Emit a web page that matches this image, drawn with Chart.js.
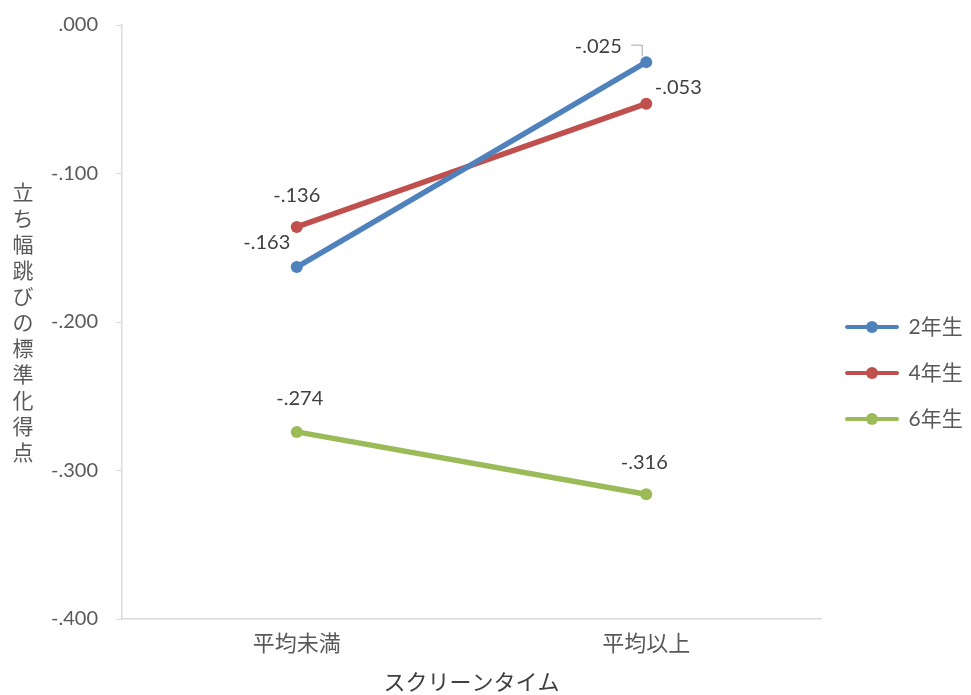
<!DOCTYPE html>
<html>
<head>
<meta charset="utf-8">
<script src="https://cdn.jsdelivr.net/npm/chart.js@4/dist/chart.umd.min.js"></script>
<style>
  html, body { margin: 0; padding: 0; background: #fff; }
  #wrap { width: 971px; height: 695px; }
</style>
</head>
<body>
<div id="wrap"><canvas id="myChart"></canvas></div>
<script>
const categories = ['平均未満', '平均以上'];
const seriesNames = ['2年生', '4年生', '6年生'];
const grade2 = [-0.163, -0.025];
const grade4 = [-0.136, -0.053];
const grade6 = [-0.274, -0.316];
const yTicks = [0, -0.1, -0.2, -0.3, -0.4];
const yTitle = '立ち幅跳びの標準化得点';
const xTitle = 'スクリーンタイム';

const colors = ['#4F81BD', '#C0504D', '#9BBB59'];
const font = "Lato, 'Noto Sans CJK JP', sans-serif";
const jpFont = "'Noto Sans CJK JP', sans-serif";

// label offsets (relative to the point), per series
const labelOffsets = [
  [[-30, -25], [-48, -16]],
  [[0, -31], [32, -16]],
  [[3, -33], [-2, -32]]
];

function fmt(v) {
  return v.toFixed(3).replace('0.', '.');
}

function legendIcon(color) {
  const c = document.createElement('canvas');
  c.width = 54; c.height = 14;
  const g = c.getContext('2d');
  g.strokeStyle = color;
  g.lineWidth = 4;
  g.lineCap = 'round';
  g.beginPath(); g.moveTo(2, 7); g.lineTo(52, 7); g.stroke();
  g.fillStyle = color;
  g.beginPath(); g.arc(27, 7, 6, 0, Math.PI * 2); g.fill();
  return c;
}

const valueLabels = {
  id: 'valueLabels',
  afterDatasetsDraw(chart) {
    const ctx = chart.ctx;
    ctx.save();
    ctx.font = '20px ' + font;
    ctx.fillStyle = '#404040';
    ctx.textAlign = 'center';
    ctx.textBaseline = 'middle';
    chart.data.datasets.forEach((ds, i) => {
      const meta = chart.getDatasetMeta(i);
      meta.data.forEach((pt, j) => {
        const off = labelOffsets[i][j];
        ctx.fillText(fmt(ds.data[j]), pt.x + off[0], pt.y + off[1]);
      });
    });
    // leader line for the 2年生 / 平均以上 label
    const p = chart.getDatasetMeta(0).data[1];
    ctx.strokeStyle = '#a6a6a6';
    ctx.lineWidth = 1;
    ctx.beginPath();
    ctx.moveTo(p.x - 15, p.y - 17);
    ctx.lineTo(p.x - 4, p.y - 17);
    ctx.lineTo(p.x - 4, p.y - 6);
    ctx.stroke();
    ctx.restore();
  }
};

const verticalTitle = {
  id: 'verticalTitle',
  afterDraw(chart) {
    const ctx = chart.ctx;
    const area = chart.chartArea;
    const mid = (area.top + area.bottom) / 2;
    const step = 26;
    const chars = Array.from(yTitle);
    ctx.save();
    ctx.font = '21px ' + jpFont;
    ctx.fillStyle = '#595959';
    ctx.textAlign = 'center';
    ctx.textBaseline = 'middle';
    chars.forEach((ch, i) => {
      ctx.fillText(ch, 23, mid + (i - (chars.length - 1) / 2) * step);
    });
    ctx.restore();
  }
};

const seriesData = [grade2, grade4, grade6];

new Chart(document.getElementById('myChart'), {
  type: 'line',
  data: {
    labels: categories,
    datasets: seriesNames.map((name, i) => ({
      label: name,
      data: seriesData[i],
      borderColor: colors[i],
      backgroundColor: colors[i],
      borderWidth: 5.5,
      pointRadius: 6,
      pointBorderWidth: 0,
      pointBackgroundColor: colors[i],
      pointStyle: 'circle',
      tension: 0
    }))
  },
  options: {
    responsive: true,
    maintainAspectRatio: false,
    animation: false,
    layout: { padding: { top: 25, bottom: 0, left: 0, right: 0 } },
    plugins: {
      tooltip: { enabled: false },
      legend: {
        position: 'right',
        align: 'center',
        maxWidth: 150,
        title: { display: true, text: ' ', font: { size: 6, lineHeight: 1 }, padding: 10 },
        labels: {
          usePointStyle: true,
          pointStyleWidth: 52,
          padding: 25,
          color: '#595959',
          font: { family: font, size: 21 },
          generateLabels(chart) {
            return chart.data.datasets.map((ds, i) => ({
              text: ds.label,
              fillStyle: colors[i],
              strokeStyle: colors[i],
              lineWidth: 0,
              pointStyle: legendIcon(colors[i]),
              datasetIndex: i,
              fontColor: '#595959'
            }));
          }
        }
      }
    },
    scales: {
      x: {
        offset: true,
        grid: { display: true, drawOnChartArea: false, drawTicks: false },
        border: { display: true, color: '#d9d9d9', width: 1.5 },
        ticks: { color: '#595959', font: { family: jpFont, size: 22 }, padding: 10 },
        title: { display: true, text: xTitle, color: '#404040', font: { family: jpFont, size: 22 }, padding: { top: 0, bottom: 0 } },
        afterFit(scale) { scale.height = 76; scale.paddingLeft = 0; scale.paddingRight = 0; }
      },
      y: {
        min: -0.4,
        max: 0,
        afterBuildTicks(scale) {
          scale.ticks = yTicks.map(v => ({ value: v }));
        },
        grid: { display: true, drawOnChartArea: false, drawTicks: true, tickLength: 6, color: '#d9d9d9' },
        border: { display: true, color: '#d9d9d9', width: 1.5 },
        ticks: {
          color: '#595959',
          font: { family: font, size: 20 },
          padding: 18,
          callback: (v) => fmt(v)
        },
        afterFit(scale) { scale.width = 122; scale.paddingTop = 0; scale.paddingBottom = 0; }
      }
    }
  },
  plugins: [valueLabels, verticalTitle]
});
</script>
</body>
</html>
